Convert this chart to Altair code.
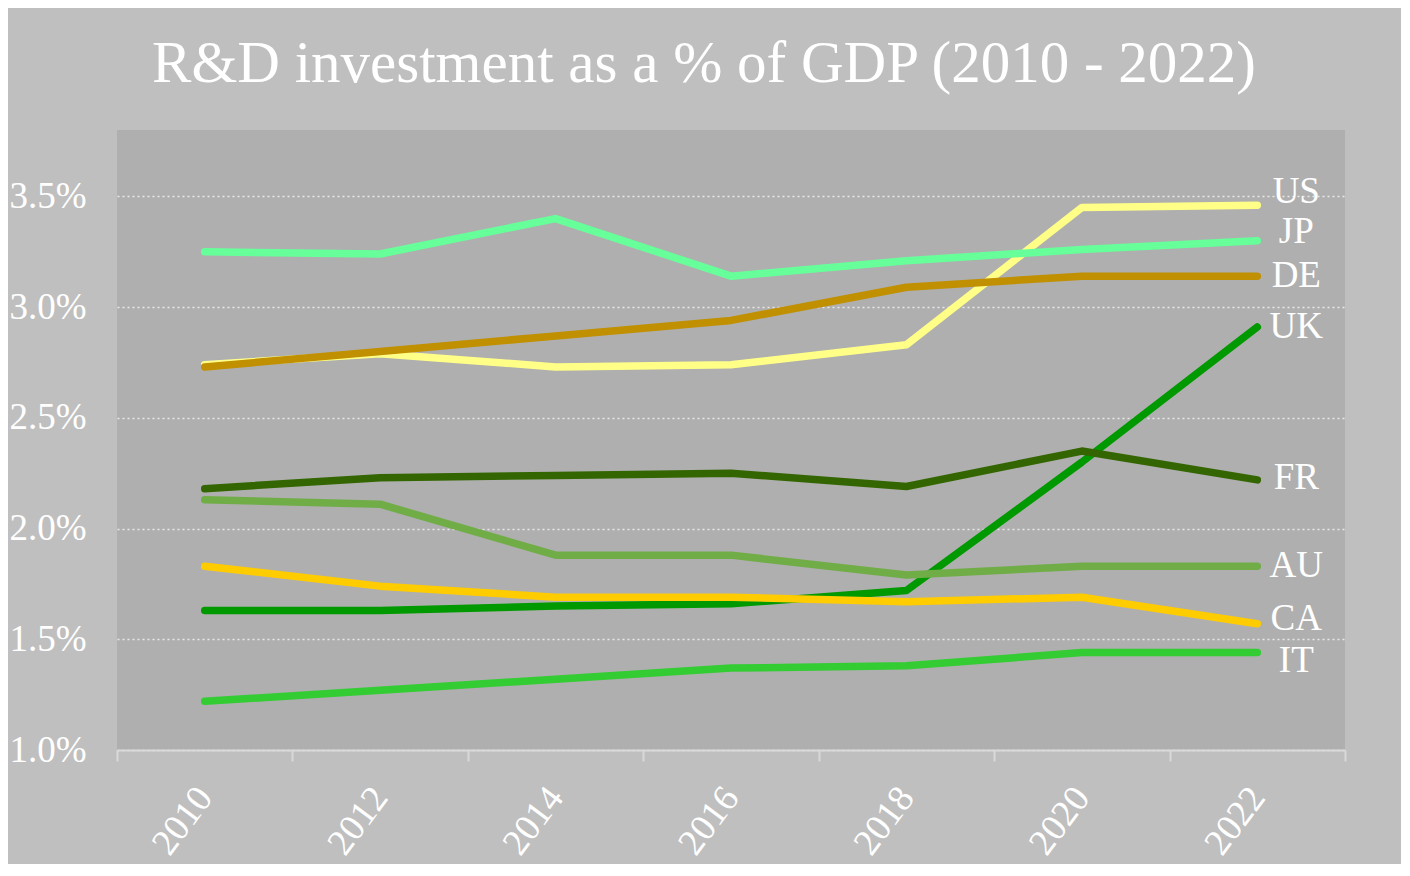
import altair as alt
import pandas as pd

years = ["2010", "2012", "2014", "2016", "2018", "2020", "2022"]
countries = ["US", "JP", "DE", "UK", "FR", "AU", "CA", "IT"]
colors = ["#ffff88", "#66ff99", "#c09000", "#009900", "#336600", "#70ad47", "#ffcc00", "#33cc33"]

us = [2.74, 2.79, 2.73, 2.74, 2.83, 3.45, 3.46]
jp = [3.25, 3.24, 3.40, 3.14, 3.21, 3.26, 3.30]
de = [2.73, 2.80, 2.87, 2.94, 3.09, 3.14, 3.14]
uk = [1.63, 1.63, 1.65, 1.66, 1.72, 2.30, 2.91]
fr = [2.18, 2.23, 2.24, 2.25, 2.19, 2.35, 2.22]
au = [2.13, 2.11, 1.88, 1.88, 1.79, 1.83, 1.83]
ca = [1.83, 1.74, 1.69, 1.69, 1.67, 1.69, 1.57]
it = [1.22, 1.27, 1.32, 1.37, 1.38, 1.44, 1.44]
series = [us, jp, de, uk, fr, au, ca, it]

# label anchor values (in % units) for the end-of-line country names
label_y = [3.52, 3.34, 3.14, 2.91, 2.23, 1.83, 1.59, 1.40]

rows = []
for c, vals in zip(countries, series):
    for y, v in zip(years, vals):
        rows.append({"country": c, "year": y, "value": v})
df = pd.DataFrame(rows)
lab = pd.DataFrame({"country": countries, "year": ["2022"] * len(countries), "value": label_y})

color_scale = alt.Scale(domain=countries, range=colors)
x_enc = alt.X("year:N", sort=years,
              scale=alt.Scale(type="band", paddingInner=0, paddingOuter=0),
              axis=alt.Axis(title=None, labelAngle=-53, labelFont="Liberation Serif",
                            labelFontSize=37, labelColor="white", labelPadding=30,
                            tickBand="extent", ticks=True, tickSize=11, tickColor="#d9d9d9",
                            tickWidth=2, domainColor="#d9d9d9", domainWidth=2, grid=False))
y_scale = alt.Scale(domain=[1.0, 3.8], nice=False, zero=False)

lines = alt.Chart(df).mark_line(strokeWidth=7.5, strokeCap="round", strokeJoin="round").encode(
    x=x_enc,
    y=alt.Y("value:Q", scale=y_scale,
            axis=alt.Axis(title=None, values=[1.0, 1.5, 2.0, 2.5, 3.0, 3.5],
                          labelExpr="format(datum.value, '.1f') + '%'",
                          labelFont="Liberation Serif", labelFontSize=37, labelColor="white",
                          labelPadding=31, ticks=False, domain=False,
                          grid=True, gridColor="#f0f0f0", gridDash=[2, 3], gridWidth=1.5,
                          gridOpacity=0.9)),
    color=alt.Color("country:N", scale=color_scale, legend=None),
    detail="country:N",
)

labels = alt.Chart(lab).mark_text(align="center", baseline="middle", dx=39,
                                  font="Liberation Serif", fontSize=37, color="white").encode(
    x=alt.X("year:N", sort=years),
    y=alt.Y("value:Q", scale=y_scale),
    text="country:N",
)

chart = alt.layer(lines, labels).properties(
    width=1228, height=620,
    padding={"left": 109, "top": 122, "right": 56, "bottom": 114},
    autosize=alt.AutoSizeParams(type="none"),
    background="#bfbfbf",
    title=alt.Title("R&D investment as a % of GDP (2010 - 2022)", font="Liberation Serif",
                    fontSize=59, fontWeight="normal", color="white", anchor="middle",
                    dx=-27, offset=36),
).configure_view(fill="#afafaf", stroke=None)

chart.save("out.html", embed_options={"renderer": "svg", "actions": False})
